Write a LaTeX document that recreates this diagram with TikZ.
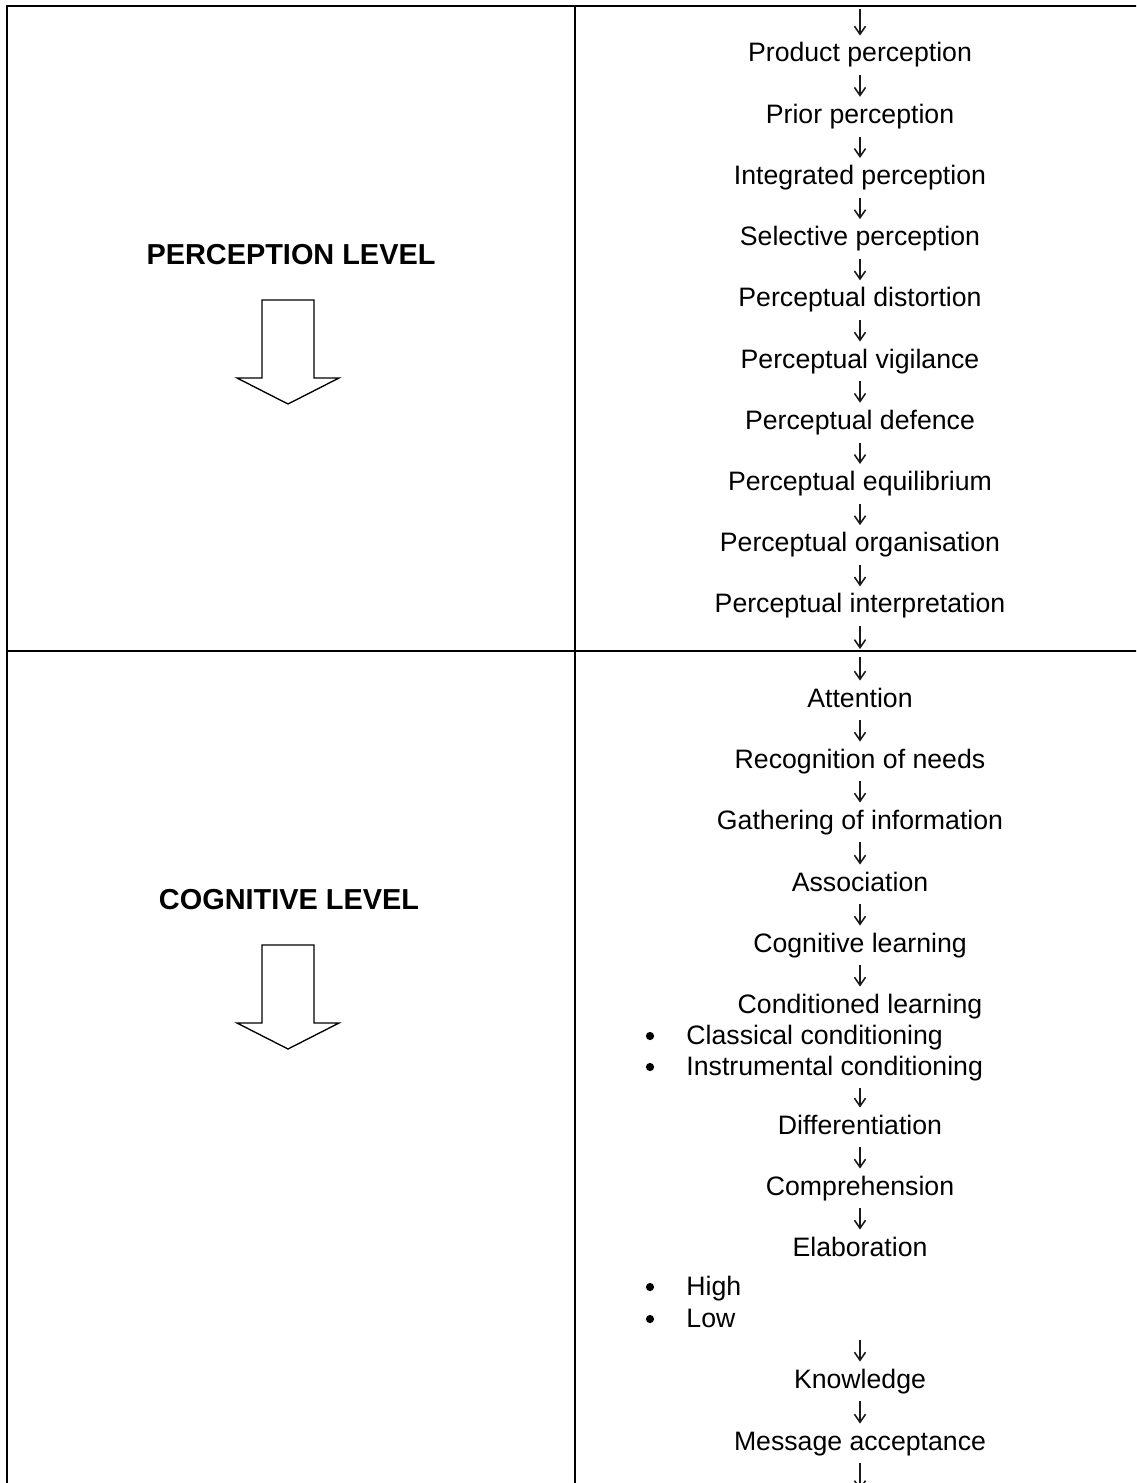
\documentclass[tikz,border=0pt]{standalone}
\usepackage{fontspec}
\setmainfont{Liberation Sans}
\usetikzlibrary{arrows.meta}

\begin{document}
\begin{tikzpicture}[x=0.45pt,y=-0.45pt,
  rule/.style={line width=0.9pt, line join=miter},
  item/.style={font=\fontsize{12}{14}\selectfont, inner sep=0pt,
    text height=8.8pt, text depth=3pt, anchor=base},
  listitem/.style={item, anchor=base west},
  dot/.style={circle, fill=black, inner sep=0pt, minimum size=3.7pt},
  heading/.style={font=\fontsize{13}{15}\selectfont\bfseries, inner sep=0pt,
    anchor=base},
  flow/.style={line width=0.7pt, draw=black!90,
    -{Straight Barb[length=3.6pt,width=5pt,line width=0.7pt]},
    shorten <=2.8pt, shorten >=2.9pt},
  blockarrow/.style={line width=0.6pt, line join=miter, fill=white}
]
\clip (0,0) rectangle (1136,1483);

% table rules
\draw[rule] (7,1490) -- (7,6) -- (1140,6);
\draw[rule] (575,6) -- (575,1490);
\draw[rule] (7,651) -- (1140,651);

% left column: level headings with hollow down arrows
\node[heading] (hp) at (291,264) {PERCEPTION LEVEL};
\draw[blockarrow] (262,300) -- (314,300) -- (314,378) -- (339,378)
  -- (288,404) -- (237,378) -- (262,378) -- cycle;

\node[heading] (hc) at (289,909) {COGNITIVE LEVEL};
\draw[blockarrow] (262,945) -- (314,945) -- (314,1023) -- (339,1023)
  -- (288,1049) -- (237,1023) -- (262,1023) -- cycle;

% perception chain
\foreach \n/\t [count=\i from 0] in {
  p1/Product perception, p2/Prior perception, p3/Integrated perception,
  p4/Selective perception, p5/Perceptual distortion, p6/Perceptual vigilance,
  p7/Perceptual defence, p8/Perceptual equilibrium,
  p9/Perceptual organisation, p10/Perceptual interpretation}
  \node[item] (\n) at (860,62+61.2*\i) {\t};

\coordinate (ptop) at (860,9);
\coordinate (pend) at (860,649);
\draw[flow, shorten <=0pt] (ptop) -- (p1.north);
\foreach \a/\b in {p1/p2,p2/p3,p3/p4,p4/p5,p5/p6,p6/p7,p7/p8,p8/p9,p9/p10}
  \draw[flow] (\a.south) -- (\b.north);
\draw[flow, shorten >=0pt] (p10.south) -- (pend);

% cognitive chain
\node[item] (c1) at (860,707) {Attention};
\node[item] (c2) at (860,768) {Recognition of needs};
\node[item] (c3) at (860,829) {Gathering of information};
\node[item] (c4) at (860,891) {Association};
\node[item] (c5) at (860,952) {Cognitive learning};
\node[item] (c6) at (860,1013) {Conditioned learning};
\node[dot] (d1) at (650,1036) {};
\node[listitem] (b1) at (686,1044) {Classical conditioning};
\node[dot] (d2) at (650,1067) {};
\node[listitem] (b2) at (686,1075) {Instrumental conditioning};
\node[item] (c7) at (860,1134) {Differentiation};
\node[item] (c8) at (860,1195) {Comprehension};
\node[item] (c9) at (860,1256) {Elaboration};
\node[dot] (d3) at (650,1287) {};
\node[listitem] (b3) at (686,1295) {High};
\node[dot] (d4) at (650,1319) {};
\node[listitem] (b4) at (686,1327) {Low};
\node[item] (c10) at (860,1388) {Knowledge};
\node[item] (c11) at (860,1450) {Message acceptance};

\coordinate (ctop) at (860,657);
\coordinate (cend) at (860,1490);
\draw[flow, shorten <=0pt] (ctop) -- (c1.north);
\foreach \a/\b in {c1/c2,c2/c3,c3/c4,c4/c5,c5/c6,c7/c8,c8/c9,c10/c11}
  \draw[flow] (\a.south) -- (\b.north);
\draw[flow] (b2.south -| c7.north) -- (c7.north);
\draw[flow] (b4.south -| c10.north) -- (c10.north);
\draw[flow, shorten >=0pt] (c11.south) -- (cend);
\end{tikzpicture}
\end{document}
